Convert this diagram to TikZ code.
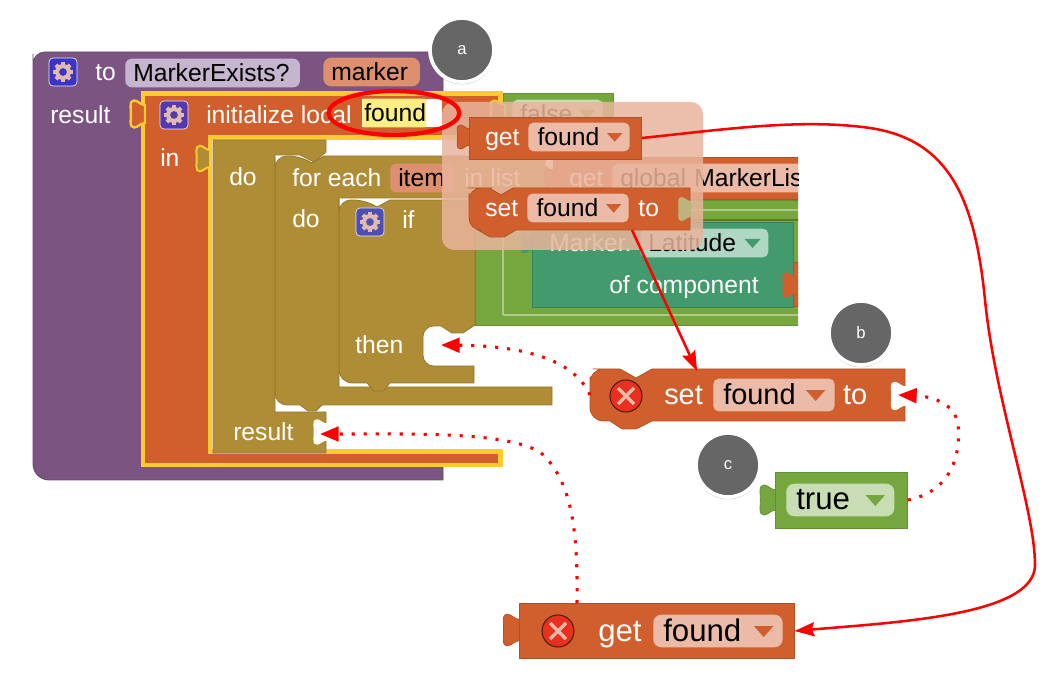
\documentclass[tikz,border=0pt]{standalone}
\usepackage{xcolor}
\usepackage{fontspec}
\setmainfont{Liberation Sans}
\usetikzlibrary{positioning, arrows.meta, shapes.geometric, shadows}

\definecolor{procpurple}{HTML}{7B5482}
\definecolor{varorange}{HTML}{D05F2D}
\definecolor{varpill}{HTML}{EBBBA7}
\definecolor{argpill}{HTML}{DE8F6E}
\definecolor{namepill}{HTML}{C5B5CE}
\definecolor{warnyellow}{HTML}{FFCA2E}
\definecolor{fieldyellow}{HTML}{FBEE82}
\definecolor{ctrlbrown}{HTML}{AF8D36}
\definecolor{logicgreen}{HTML}{76A73F}
\definecolor{logicpill}{HTML}{C8DDB4}
\definecolor{compteal}{HTML}{439A6C}
\definecolor{comppill}{HTML}{B0D7C4}
\definecolor{markgrey}{HTML}{666666}
\definecolor{errorred}{HTML}{E9301F}
\definecolor{gearblue}{HTML}{3A34C9}
\definecolor{gearindigo}{HTML}{5239B0}
\definecolor{gearslate}{HTML}{4E4FB3}

\newcommand{\smallfont}{\fontsize{18.5}{20}\selectfont}
\newcommand{\bigfont}{\fontsize{21.7}{23}\selectfont}
\newcommand{\hugefont}{\fontsize{23.4}{25}\selectfont}

% puzzle tab, pointing left, hanging on a block edge
\newcommand{\plug}[4]{\path[#4, shift={(#1,#2)}, scale=#3]
    (0,-10) .. controls (-5,-10) and (-8,-15) .. (-12,-15)
    .. controls (-15,-15) and (-16,-13) .. (-16,-8) .. controls (-15.5,-3) and (-15.5,3) .. (-16,8)
    .. controls (-16,13) and (-15,15) .. (-12,15)
    .. controls (-8,15) and (-5,10) .. (0,10) -- cycle;}
\newcommand{\dropdown}[3]{\fill[#2, shift={(#1.east)}, scale=#3] (-24,-4) -- (-8,-4) -- (-16,5) -- cycle;}
\newcommand{\gearbtn}[4]{
    \node[gearbox, fill=#3] (#4) at (#1,#2) {};
    \foreach \a in {0,45,...,315}
        \fill[gearteeth, shift={(#1,#2)}, rotate=\a] (-2,-10) rectangle (2,-5);
    \fill[gearteeth, even odd rule, shift={(#1,#2)}] (0,0) circle (8) (0,0) circle (4);
}
\newcommand{\errorbtn}[3]{
    \node[errorbox] (#3) at (#1,#2) {};
    \draw[errorcross, shift={(#1,#2)}] (-8,-8) -- (8,8) (-8,8) -- (8,-8);
}

\tikzset{
    block/.style={fill=#1, draw=#1!85!black, line width=.6pt},
    word/.style={text=white, font=\smallfont, inner sep=0pt, text height=15pt, text depth=2.5pt, anchor=west},
    bigword/.style={word, font=\bigfont, text height=17pt, text depth=3pt},
    hugeword/.style={word, font=\hugefont, text height=17.5pt, text depth=2.5pt},
    pill/.style 2 args={fill=#1, text width=#2, rounded corners=4pt, text=black, font=\smallfont,
        inner xsep=6pt, inner ysep=2pt, text height=15pt, text depth=2.5pt, anchor=west, align=left},
    bigpill/.style 2 args={pill={#1}{#2}, font=\bigfont, text height=17pt, text depth=3pt, inner ysep=2.2pt},
    hugepill/.style 2 args={bigpill={#1}{#2}, font=\hugefont, text height=17.5pt, text depth=2.5pt},
    gearbox/.style={rounded corners=3pt, minimum size=21pt, inner sep=0pt, draw=white!70!namepill, line width=.5pt},
    gearteeth/.style={fill=varpill!75!namepill},
    errorbox/.style={circle, fill=errorred, draw=black!65!varorange, line width=.8pt, minimum size=24pt},
    errorcross/.style={draw=varpill, line width=2.6pt},
    markball/.style={circle, fill=markgrey, draw=white, line width=2.8pt, minimum size=48pt,
        text=white, font=\fontsize{12.5}{13}\selectfont, drop shadow={shadow xshift=0pt, shadow yshift=-1pt, shadow scale=1.03, opacity=.45}},
    solidarrow/.style={draw=red, line width=1.9pt, -{Stealth[length=15pt, width=10.5pt, inset=2pt]}},
    dotarrow/.style={draw=red, line width=2.3pt, dash pattern=on 2.3pt off 6.7pt, -{Triangle[length=14pt, width=11pt]}},
}

\begin{document}
\begin{tikzpicture}[x=.75pt, y=-.75pt]
    \useasboundingbox (0,0) rectangle (1058,695);

    % procedure
    \path[block=procpurple] (33,70) [rounded corners=9pt] -- (33,52) -- (70,52) [sharp corners] -- (443,52) -- (443,92) -- (143,92)
        -- (143,466) -- (443,466) -- (443,480) [rounded corners=12pt] -- (33,480) -- cycle;

    % local variable
    \fill[varorange, draw=warnyellow, line width=3.6pt] (143,93.5) -- (500.5,93.5) -- (500.5,137.5) -- (210,137.5)
        -- (210,451.5) -- (500.5,451.5) -- (500.5,465) -- (143,465) -- cycle;
    \plug{145}{114}{.9}{fill=varorange, draw=warnyellow, line width=1.8pt}

    % green condition and the blocks clipped at the right
    \begin{scope}
        \clip (0,0) rectangle (798,695);
        \path[block=logicgreen] (475,200) rectangle (805,325);
        \draw[logicgreen!60!white, line width=.8pt] (503,315) -- (503,210) -- (805,210);
        \draw[logicgreen!60!white, line width=.8pt] (503,315) -- (805,315);
        \draw[logicgreen!75!black, line width=.8pt] (515,220) -- (805,220);
        \path[block=varorange] (553,157) rectangle (805,199);
        \plug{553}{178}{.85}{fill=varorange}
        \node[word] (getglobal) at (569,178) {get};
        \node[pill={varpill}{200pt}] (globalpill) at (612,178) {global MarkerList};
        \path[block=varorange] (790,262) rectangle (805,306);
    \end{scope}
    \path[block=compteal] (532,222) rectangle (793,307);
    \plug{532}{243}{.7}{fill=compteal}
    \plug{796}{285}{.85}{fill=varorange}
    \node[word] (markerword) at (549,243) {Marker.};
    \node[pill={comppill}{84pt}] (latitudepill) at (640,243) {Latitude};
    \dropdown{latitudepill}{compteal}{1}
    \node[word] (ofcomponent) at (609,285) {of component};

    % false
    \path[block=logicgreen] (503,93) rectangle (613,138);
    \plug{505}{114}{.9}{fill=logicgreen!50!varorange, draw=warnyellow, line width=1.5pt}
    \node[pill={logicpill}{56pt}] (falsepill) at (512,114) {false};
    \dropdown{falsepill}{logicgreen}{1}

    % control blocks
    \path[block=ctrlbrown] (213,140) -- (326,140) -- (326,152) -- (314,162) -- (300,155) -- (275,155)
        -- (275,412) -- (326,412) -- (326,453) -- (213,453) -- cycle;
    \plug{210}{158.5}{.85}{fill=ctrlbrown, draw=warnyellow, line width=1.5pt}
    \path[block=ctrlbrown] (275,170) [rounded corners=9pt] -- (275,156) -- (301,156) [sharp corners] -- (312,163)
        -- (324,156) -- (545,156) -- (545,198) -- (339,198) -- (339,387) -- (552,387) -- (552,405)
        -- (322,405) -- (316,411) -- (308,411) -- (300,405) [rounded corners=9pt] -- (275,405) -- cycle;
    \path[block=ctrlbrown] (339,212) [rounded corners=9pt] -- (339,200) -- (366,200) [sharp corners] -- (377,207)
        -- (390,200) -- (475,200) -- (475,325) -- (463,333) -- (452,333) -- (441,326)
        [rounded corners=8pt] -- (423,326) -- (423,366) -- (445,366) [sharp corners] -- (474,366) -- (474,383)
        -- (390,383) -- (383,391) -- (374,391) -- (367,383) [rounded corners=10pt] -- (339,383) -- cycle;
    \plug{327}{432}{.85}{fill=white}

    % header texts
    \gearbtn{63}{72}{gearblue}{procgear}
    \node[word] (toword) at (95,72) {to};
    \node[pill={namepill}{119pt}, rounded corners=5pt] (namepilla) at (125,73) {MarkerExists?};
    \node[pill={argpill}{60.5pt}, rounded corners=6pt] (markerpill) at (323,72) {marker};
    \node[word] (resultword) at (50,115) {result};
    \gearbtn{174}{115}{gearindigo}{localgear}
    \node[word] (initword) at (206,115) {initialize local};
    \node[fill=white, minimum width=60pt, minimum height=21pt, inner sep=0pt, anchor=west] (foundwhite) at (362,113) {};
    \node[pill={fieldyellow}{45pt}, inner xsep=1.5pt, rounded corners=1pt] (foundfield) at (362,113) {found};
    \node[word] (inword) at (160,158) {in};
    \node[word] (doworda) at (229,177) {do};
    \node[word] (foreachword) at (292,178) {for each};
    \node[pill={argpill}{36.5pt}] (itempill) at (390,178) {item};
    \node[word] (inlistword) at (464,178) {in list};
    \node[word] (dowordb) at (292,219) {do};
    \gearbtn{370}{222}{gearslate}{ifgear}
    \node[word] (ifword) at (402,220) {if};
    \node[word] (thenword) at (355,345) {then};
    \node[word] (resultwordb) at (233,432) {result};

    % dragged copies
    \fill[varpill!92!varorange, opacity=.85, rounded corners=9pt] (442,102) rectangle (703,250);
    \plug{470}{137}{.8}{block=varorange}
    \node[block=varorange, minimum width=129pt, minimum height=31.5pt, inner sep=0pt, anchor=west] (getsmall) at (469,138) {};
    \node[word] (getwordsmall) at (485,137) {get};
    \node[pill={varpill}{62pt}, inner xsep=7pt] (getpillsmall) at (528,137) {found};
    \dropdown{getpillsmall}{varorange}{.95}
    \path[block=varorange] (469,205) [rounded corners=9pt] -- (469,188) -- (480,188) [sharp corners] -- (489,188) -- (501,195) -- (513,188)
        -- (690,188) -- (690,230) -- (516,230) -- (504,237) -- (490,237) -- (478,230) [rounded corners=9pt] -- (469,230) -- cycle;
    \node[minimum width=165.75pt, minimum height=31.5pt, inner sep=0pt, anchor=west] (setsmall) at (469,209) {};
    \plug{691}{209}{.8}{fill=varpill!60!logicgreen}
    \node[word] (setwordsmall) at (485,208) {set};
    \node[pill={varpill}{62pt}, inner xsep=7pt] (setpillsmall) at (527,208) {found};
    \dropdown{setpillsmall}{varorange}{.95}
    \node[word, right=7pt of setpillsmall] (towordsmall) {to};

    % set found
    \path[block=varorange] (590,390) [rounded corners=10pt] -- (590,369) -- (606,369) [sharp corners] -- (620,369) -- (636,378) -- (652,369)
        -- (905,369) -- (905,421) -- (652,421) -- (636,429) -- (622,429) -- (610,421) [rounded corners=10pt] -- (590,421) -- cycle;
    \node[minimum width=236.25pt, minimum height=39pt, inner sep=0pt, anchor=west] (setlarge) at (590,395) {};
    \plug{906}{396}{.95}{fill=white}
    \errorbtn{626}{396}{seterror}
    \node[bigword] (setword) at (664,395) {set};
    \node[bigpill={varpill}{76pt}, inner xsep=7.5pt] (setpill) at (713,395) {found};
    \dropdown{setpill}{varorange}{1.2}
    \node[bigword, right=6pt of setpill] (toword2) {to};

    % true
    \plug{776}{500}{1}{block=logicgreen}
    \node[block=logicgreen, minimum width=99pt, minimum height=42pt, inner sep=0pt, anchor=west] (trueblock) at (775,500) {};
    \node[hugepill={logicpill}{66pt}, inner xsep=7.5pt, rounded corners=6pt] (truepill) at (786,500) {true};
    \dropdown{truepill}{logicgreen}{1.2}

    % get found
    \plug{520}{630}{1.05}{block=varorange}
    \node[block=varorange, minimum width=206pt, minimum height=41pt, inner sep=0pt, anchor=west] (getlarge) at (519,631) {};
    \errorbtn{558}{631}{geterror}
    \node[hugeword] (getword) at (598,631) {get};
    \node[hugepill={varpill}{82pt}, inner xsep=7.5pt, rounded corners=6pt] (getpill) at (653,631) {found};
    \dropdown{getpill}{varorange}{1.2}

    % hole ends of the dotted lines
    \coordinate (thenhole) at (441,345);
    \coordinate (resulthole) at (320,434);
    \coordinate (tohole) at (898,395);
    \coordinate (bendpoint) at (540,452);

    % markers
    \node[ellipse, draw=red, line width=3.2pt, minimum width=98pt, minimum height=33pt, inner sep=0pt] (foundmark) at (394,113) {};
    \node[markball] (marka) at (462,50) {a};
    \node[markball] (markb) at (861,333) {b};
    \node[markball] (markc) at (728,465) {c};

    % connectors
    \draw[solidarrow] (getsmall.east) .. controls (720,130) and (800,118) .. (870,128)
        .. controls (950,140) and (975,200) .. (985,300) .. controls (995,400) and (1035,510) .. (1035,565)
        .. controls (1035,615) and (900,622) .. (getlarge.east);
    \draw[solidarrow, shorten >=-2pt] (632,230) -- (696,0 |- setlarge.north);
    \draw[dotarrow] (setlarge.west) .. controls (575,362) and (530,346) .. (thenhole);
    \draw[dotarrow] (577,0 |- getlarge.north) .. controls (578,530) and (572,480) .. (bendpoint) .. controls (505,432) and (420,434) .. (resulthole);
    \draw[dotarrow] (trueblock.east) .. controls (960,490) and (960,440) .. (958,425) .. controls (955,400) and (925,396) .. (tohole);
\end{tikzpicture}
\end{document}
